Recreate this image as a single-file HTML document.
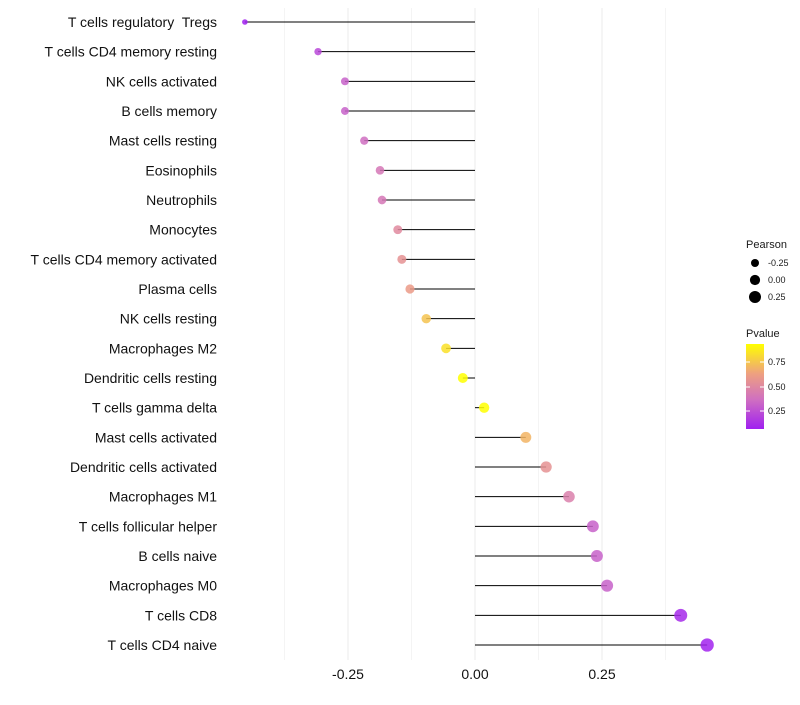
<!DOCTYPE html>
<html><head><meta charset="utf-8"><style>
body{margin:0;background:#fff;font-family:"Liberation Sans",sans-serif}
text{white-space:pre}
</style></head><body>
<svg id="c" width="800" height="700" xmlns="http://www.w3.org/2000/svg"></svg>
<script>
const categories=["T cells regulatory  Tregs","T cells CD4 memory resting","NK cells activated","B cells memory","Mast cells resting","Eosinophils","Neutrophils","Monocytes","T cells CD4 memory activated","Plasma cells","NK cells resting","Macrophages M2","Dendritic cells resting","T cells gamma delta","Mast cells activated","Dendritic cells activated","Macrophages M1","T cells follicular helper","B cells naive","Macrophages M0","T cells CD8","T cells CD4 naive"];
const pearson=[-0.453,-0.309,-0.256,-0.256,-0.218,-0.187,-0.183,-0.152,-0.144,-0.128,-0.096,-0.057,-0.024,0.018,0.100,0.140,0.185,0.232,0.240,0.260,0.405,0.457];
const pvalue=[0.04,0.2,0.3,0.3,0.35,0.4,0.4,0.5,0.55,0.6,0.75,0.85,0.95,0.95,0.7,0.55,0.45,0.3,0.3,0.3,0.08,0.05];
const xTicks=[-0.25,0,0.25];
const xTickLabels=["-0.25","0.00","0.25"];
const xMinor=[-0.375,-0.125,0.125,0.375];
const NS="http://www.w3.org/2000/svg";
const svg=document.getElementById('c');
function X(v){return 475+v*508;}
function Y(i){return 22+i*29.667;}
function mk(t,a,p){const e=document.createElementNS(NS,t);for(const k in a)e.setAttribute(k,a[k]);(p||svg).appendChild(e);return e;}
function lerp(a,b,t){return a.map((x,i)=>Math.round(x+(b[i]-x)*t));}
const stops=[[0,[160,32,240]],[0.35,[208,112,192]],[0.65,[238,160,128]],[1,[255,255,0]]];
function col(p){let t=(p-0.04)/(0.95-0.04);t=Math.max(0,Math.min(1,t));for(let i=1;i<stops.length;i++){if(t<=stops[i][0]){const s=stops[i-1],e=stops[i];const c=lerp(s[1],e[1],(t-s[0])/(e[0]-s[0]));return `rgb(${c})`;}}return 'rgb(255,255,0)';}
function rad(v){return Math.sqrt(Math.max(2,26+40*v));}
const grid=mk('g',{});
xMinor.forEach(v=>mk('line',{x1:X(v),x2:X(v),y1:8,y2:660,stroke:'#f4f4f4','stroke-width':1},grid));
xTicks.forEach(v=>mk('line',{x1:X(v),x2:X(v),y1:8,y2:660,stroke:'#ebebeb','stroke-width':1},grid));
categories.forEach((c,i)=>{
 const y=Y(i);
 const t=mk('text',{x:217,y:y+5,'text-anchor':'end','font-size':14,fill:'#111','xml:space':'preserve'});t.textContent=c;
 
 const l=mk('line',{x1:X(0),x2:X(pearson[i]),y1:y,y2:y,stroke:'#000','stroke-width':1});
 
 const d=mk('circle',{cx:X(pearson[i]),cy:y,r:rad(pearson[i]),fill:col(pvalue[i]),'fill-opacity':0.85});
 
});
xTicks.forEach((v,i)=>{const t=mk('text',{x:X(v),y:679,'text-anchor':'middle','font-size':14,fill:'#111'});t.textContent=xTickLabels[i];
 });
const lg=mk('g',{});
let t=mk('text',{x:746,y:248,'font-size':11,fill:'#1a1a1a'},lg);t.textContent='Pearson';
[-0.25,0,0.25].forEach((v,i)=>{const y=263+i*17;mk('circle',{cx:755,cy:y,r:rad(v),fill:'#000'},lg);
 const tt=mk('text',{x:768,y:y+3,'font-size':9,fill:'#1a1a1a'},lg);tt.textContent=xTickLabels[i];});
t=mk('text',{x:746,y:337,'font-size':11,fill:'#1a1a1a'},lg);t.textContent='Pvalue';
const defs=mk('defs',{});const gr=mk('linearGradient',{id:'pg',x1:0,y1:1,x2:0,y2:0},defs);
stops.forEach(s=>mk('stop',{offset:s[0],'stop-color':`rgb(${s[1]})`},gr));
mk('rect',{x:746,y:344,width:18,height:85,fill:'url(#pg)'},lg);
[[0.75,362],[0.5,387],[0.25,411]].forEach(([v,y])=>{mk('line',{x1:746,x2:750,y1:y,y2:y,stroke:'#fff'},lg);mk('line',{x1:760,x2:764,y1:y,y2:y,stroke:'#fff'},lg);
 const tt=mk('text',{x:768,y:y+3,'font-size':9,fill:'#1a1a1a'},lg);tt.textContent=v.toFixed(2);});
</script>
</body></html>
